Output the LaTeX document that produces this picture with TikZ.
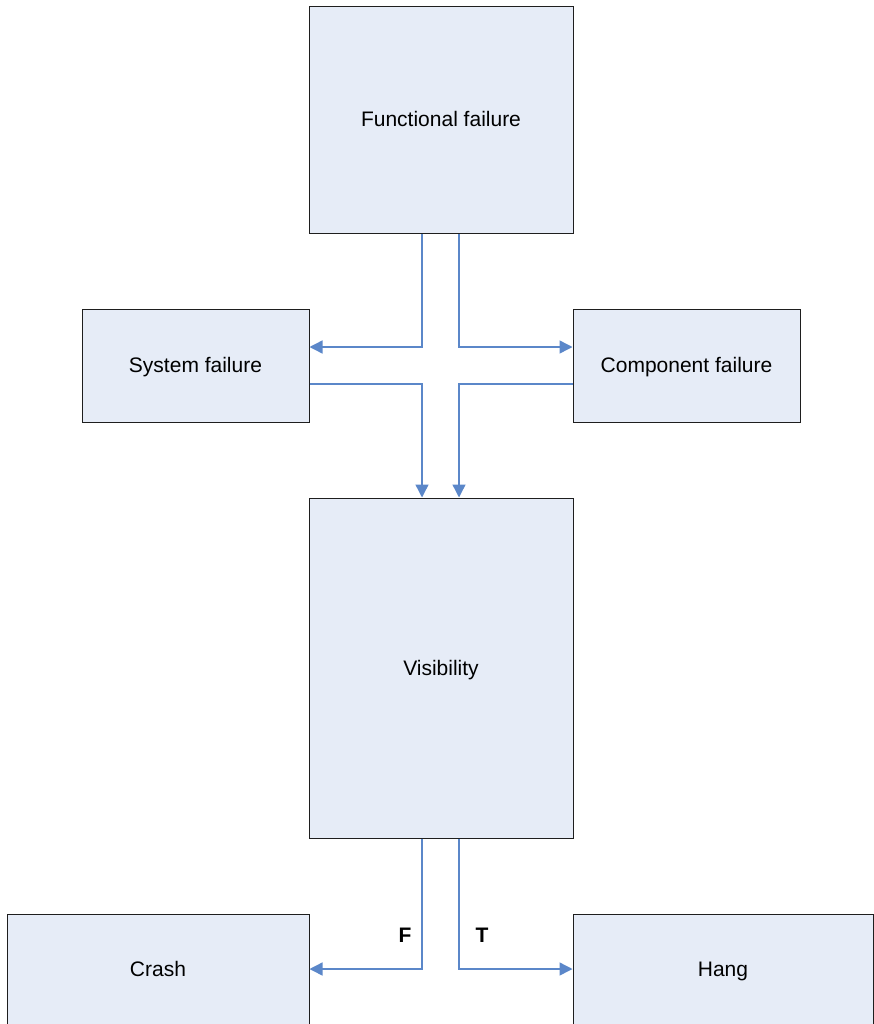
\documentclass[tikz,border=0pt]{standalone}
\usepackage{fontspec}
\setmainfont{Liberation Sans}
\usetikzlibrary{arrows.meta,calc}
\definecolor{boxfill}{HTML}{E6ECF7}
\definecolor{boxdraw}{HTML}{1E1E1E}
\definecolor{arrcol}{HTML}{5B87C9}
\tikzset{
  fbox/.style={draw=boxdraw, fill=boxfill, line width=1pt, inner sep=0pt, text height=17pt, text depth=3pt, font=\fontsize{21}{25}\selectfont},
  arr/.style={draw=arrcol, line width=1.4pt, -{Triangle[length=13pt,width=13pt]}},
  lab/.style={font=\fontsize{21}{25}\selectfont\bfseries, inner sep=0pt}
}
\begin{document}
\begin{tikzpicture}[x=1pt,y=-1pt]
\useasboundingbox (0,0) rectangle (873,1024);
\node[fbox, minimum width=264pt, minimum height=227pt] (func) at (441,120) {Functional failure};
\node[fbox, minimum width=227pt, minimum height=113pt] (sys) at (195.5,365.5) {System failure};
\node[fbox, minimum width=227pt, minimum height=113pt] (comp) at (686.5,365.5) {Component failure};
\node[fbox, minimum width=264pt, minimum height=340pt] (vis) at (441,668) {Visibility};
\node[fbox, minimum width=302pt, minimum height=110pt] (crash) at (158,969) {Crash};
\node[fbox, minimum width=300pt, minimum height=110pt] (hang) at (723,969) {Hang};

\draw[arr] ($(func.south)+(-19,0)$) |- ($(sys.east)+(0,-18.5)$);
\draw[arr] ($(func.south)+(18,0)$) |- ($(comp.west)+(0,-18.5)$);
\draw[arr] ($(sys.east)+(0,18.5)$) -| ($(vis.north)+(-19,0)$);
\draw[arr] ($(comp.west)+(0,18.5)$) -| ($(vis.north)+(18,0)$);
\draw[arr] ($(vis.south)+(-19,0)$) |- (crash.east);
\draw[arr] ($(vis.south)+(18,0)$) |- (hang.west);

\node[lab] (f) at (405,935) {F};
\node[lab] (t) at (482,935) {T};
\end{tikzpicture}
\end{document}
